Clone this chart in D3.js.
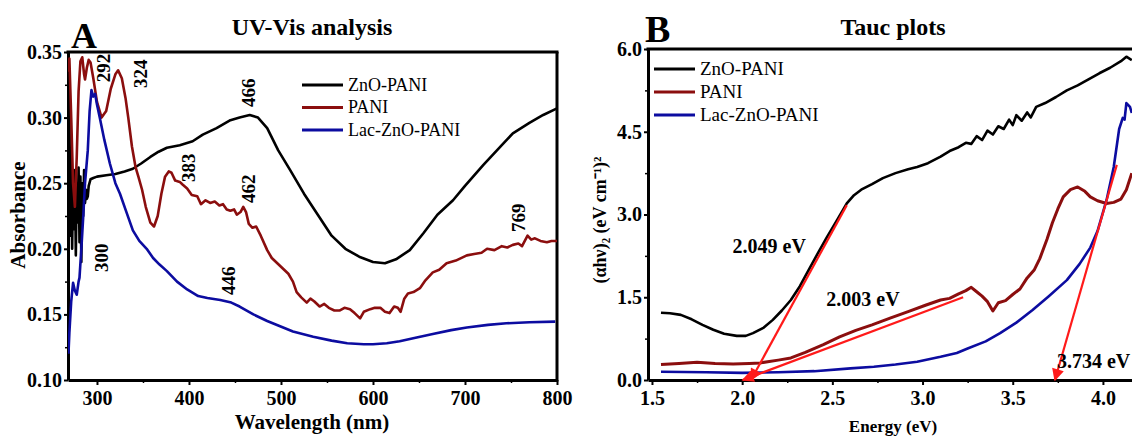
<!DOCTYPE html>
<html>
<head>
<meta charset="utf-8">
<script src="https://cdn.jsdelivr.net/npm/d3@7"></script>
<style>
  body { margin: 0; background: #fff; }
  svg text { font-family: "Liberation Serif", "Times New Roman", serif; }
</style>
</head>
<body>
<svg id="chart" width="1132" height="440"></svg>
<script>
// ---- data -------------------------------------------------------------

// Panel A: UV-Vis absorbance vs wavelength (nm)
const uvZnoPani = [
  [268,0.345],[269,0.25],[270,0.31],[271,0.21],[272,0.27],[273,0.20],[274,0.255],[275,0.215],
  [276,0.26],[277,0.195],[278,0.25],[279,0.22],[280,0.262],[281,0.205],[282,0.255],[283,0.19],
  [284,0.25],[285,0.225],[286,0.26],[287,0.235],[288,0.245],[289,0.238],[290,0.24],[291,0.248],
  [293,0.253],[296,0.254],[300,0.255],[310,0.256],[320,0.257],[330,0.259],[339,0.261],[348,0.265],
  [358,0.27],[367,0.274],[376,0.277],[390,0.279],[404,0.282],[415,0.287],[430,0.292],[445,0.298],
  [455,0.3],[466,0.302],[475,0.3],[485,0.292],[497,0.275],[510,0.26],[525,0.242],[540,0.226],
  [555,0.21],[570,0.2],[585,0.194],[600,0.19],[613,0.189],[625,0.192],[640,0.199],[655,0.212],
  [670,0.226],[687,0.237],[700,0.248],[720,0.264],[740,0.279],[752,0.288],[770,0.296],[785,0.302],[800,0.307]
];
const uvPani = [
  [268,0.335],[270,0.345],[272,0.30],[274,0.25],[276,0.232],[278,0.27],[280,0.32],[282,0.343],
  [284,0.346],[286,0.333],[287,0.329],[289,0.338],[291,0.344],[293,0.342],[296,0.33],[300,0.312],
  [305,0.30],[310,0.305],[315,0.322],[320,0.333],[323,0.336],[327,0.33],[331,0.315],[334,0.30],
  [338,0.278],[342,0.262],[345,0.255],[349,0.245],[353,0.232],[358,0.22],[362,0.217],[366,0.225],
  [370,0.242],[374,0.255],[378,0.259],[381,0.258],[385,0.252],[390,0.251],[393,0.249],[398,0.246],
  [403,0.241],[409,0.24],[413,0.234],[418,0.237],[423,0.235],[428,0.236],[433,0.233],[437,0.234],
  [441,0.23],[445,0.229],[449,0.23],[452,0.226],[456,0.228],[459,0.232],[462,0.228],[465,0.219],
  [469,0.216],[473,0.217],[478,0.21],[485,0.199],[490,0.193],[496,0.189],[502,0.185],[508,0.181],
  [513,0.175],[517,0.167],[522,0.163],[528,0.159],[532,0.162],[536,0.16],[542,0.156],[547,0.158],
  [552,0.155],[558,0.153],[564,0.153],[569,0.155],[575,0.154],[580,0.151],[586,0.147],[590,0.152],
  [597,0.154],[602,0.155],[608,0.155],[613,0.152],[618,0.151],[623,0.156],[627,0.155],[630,0.152],
  [634,0.162],[638,0.166],[644,0.167],[651,0.17],[657,0.176],[665,0.182],[672,0.184],[680,0.189],
  [690,0.191],[702,0.195],[710,0.196],[718,0.197],[724,0.2],[732,0.199],[740,0.202],[746,0.201],
  [752,0.203],[758,0.204],[762,0.202],[768,0.21],[772,0.207],[776,0.208],[782,0.206],[789,0.205],
  [794,0.206],[800,0.206]
];
const uvLac = [
  [269,0.12],[270,0.136],[272,0.16],[274,0.174],[276,0.168],[278,0.165],[280,0.175],[281,0.178],
  [283,0.2],[285,0.224],[287,0.25],[290,0.275],[292,0.305],[294,0.321],[296,0.316],[298,0.318],
  [300,0.31],[303,0.3],[308,0.283],[314,0.265],[320,0.25],[325,0.242],[332,0.228],[339,0.214],
  [346,0.206],[354,0.2],[361,0.193],[368,0.188],[376,0.183],[387,0.175],[398,0.169],[410,0.164],
  [420,0.1625],[434,0.161],[446,0.159],[455,0.156],[470,0.15],[485,0.145],[499,0.141],[513,0.137],
  [535,0.133],[555,0.13],[572,0.128],[590,0.1272],[600,0.1273],[615,0.128],[629,0.1295],[645,0.132],
  [665,0.135],[685,0.138],[702,0.14],[725,0.142],[745,0.1432],[770,0.144],[798,0.1445]
];
// peak labels, placed by (wavelength, absorbance) of the text's lower end
const uvPeaks = [
  {label:"292", x:314.5, y:0.327}, {label:"324", x:354, y:0.3226}, {label:"466", x:472, y:0.308},
  {label:"383", x:406, y:0.251},   {label:"462", x:472, y:0.235},  {label:"300", x:312.5, y:0.1823},
  {label:"446", x:450.5, y:0.1648},{label:"769", x:765, y:0.2128}
];

// Panel B: Tauc plots (αhν)² vs energy (eV)
const taucZnoPani = [
  [1.55,1.22],[1.6,1.21],[1.66,1.18],[1.72,1.1],[1.78,1.0],[1.84,0.91],[1.9,0.84],[1.97,0.8],
  [2.02,0.8],[2.06,0.85],[2.12,0.95],[2.17,1.09],[2.22,1.26],[2.27,1.45],[2.32,1.7],[2.36,1.94],
  [2.42,2.3],[2.47,2.59],[2.53,2.92],[2.58,3.2],[2.62,3.35],[2.66,3.45],[2.72,3.55],[2.78,3.66],
  [2.85,3.75],[2.92,3.82],[2.97,3.86],[3.03,3.93],[3.1,4.05],[3.15,4.15],[3.2,4.22],[3.24,4.3],
  [3.27,4.28],[3.3,4.42],[3.33,4.35],[3.36,4.52],[3.39,4.45],[3.42,4.6],[3.45,4.55],[3.48,4.72],
  [3.5,4.62],[3.52,4.8],[3.55,4.7],[3.58,4.85],[3.6,4.76],[3.63,4.95],[3.68,5.02],[3.74,5.13],
  [3.8,5.25],[3.86,5.34],[3.92,5.45],[3.98,5.56],[4.04,5.66],[4.1,5.78],[4.13,5.86],[4.16,5.8]
];
const taucPani = [
  [1.55,0.28],[1.65,0.3],[1.75,0.32],[1.85,0.3],[1.95,0.29],[2.04,0.3],[2.1,0.31],[2.2,0.36],
  [2.27,0.4],[2.35,0.5],[2.45,0.64],[2.54,0.78],[2.63,0.9],[2.72,1.0],[2.82,1.12],[2.92,1.24],
  [3.02,1.36],[3.1,1.45],[3.15,1.48],[3.2,1.56],[3.24,1.62],[3.27,1.68],[3.3,1.6],[3.33,1.52],
  [3.36,1.42],[3.39,1.25],[3.42,1.4],[3.46,1.44],[3.5,1.55],[3.54,1.65],[3.58,1.85],[3.62,2.0],
  [3.65,2.2],[3.69,2.55],[3.72,2.85],[3.75,3.1],[3.78,3.32],[3.82,3.45],[3.86,3.5],[3.9,3.42],
  [3.93,3.32],[3.97,3.25],[4.02,3.2],[4.06,3.22],[4.1,3.28],[4.13,3.45],[4.16,3.75]
];
const taucLac = [
  [1.55,0.15],[1.8,0.14],[2.0,0.13],[2.2,0.14],[2.4,0.16],[2.6,0.21],[2.73,0.24],[2.85,0.28],
  [2.97,0.33],[3.1,0.42],[3.19,0.49],[3.25,0.57],[3.35,0.7],[3.43,0.85],[3.52,1.04],[3.61,1.27],
  [3.7,1.52],[3.8,1.81],[3.87,2.1],[3.93,2.4],[3.97,2.7],[4.02,3.26],[4.06,3.86],[4.09,4.55],
  [4.11,4.75],[4.12,4.72],[4.13,5.02],[4.15,4.95],[4.16,4.84]
];
// tangent lines: start -> arrow tip on the energy axis
const taucFits = [
  {from:[2.58,3.17],  to:[2.049,0]},
  {from:[3.225,1.5],  to:[2.003,0]},
  {from:[4.077,3.9],  to:[3.734,0]}
];
const gapLabels = [
  {label:"2.049 eV", x:2.15, y:2.3,  anchor:"middle"},
  {label:"2.003 eV", x:2.67, y:1.35, anchor:"middle"},
  {label:"3.734 eV", x:3.745, y:0.22, anchor:"start"}
];

const seriesNames  = ["ZnO-PANI", "PANI", "Lac-ZnO-PANI"];
const seriesColors = ["#000000", "#8b0e0e", "#0c0ca0"];

// ---- layout ------------------------------------------------------------
const svg = d3.select("#chart");
const boxA = { left: 68,  top: 52, right: 557,  bottom: 380 };
const boxB = { left: 648, top: 49, right: 1139, bottom: 380 };

const xA = d3.scaleLinear().domain([268.5, 800]).range([boxA.left, boxA.right]);
const yA = d3.scaleLinear().domain([0.10, 0.35]).range([boxA.bottom, boxA.top]);
const xB = d3.scaleLinear().domain([1.478, 4.2]).range([boxB.left, boxB.right]);
const yB = d3.scaleLinear().domain([0, 6]).range([boxB.bottom, boxB.top]);

const defs = svg.append("defs");
defs.append("clipPath").attr("id", "clipA").append("rect")
  .attr("x", boxA.left).attr("y", boxA.top)
  .attr("width", boxA.right - boxA.left).attr("height", boxA.bottom - boxA.top);
defs.append("clipPath").attr("id", "clipB").append("rect")
  .attr("x", boxB.left).attr("y", boxB.top - 2)
  .attr("width", boxB.right - boxB.left).attr("height", boxB.bottom - boxB.top + 2);
defs.append("marker")
  .attr("id", "arrow").attr("viewBox", "0 0 10 10")
  .attr("refX", 9).attr("refY", 5)
  .attr("markerWidth", 6).attr("markerHeight", 5.5)
  .attr("markerUnits", "strokeWidth")
  .attr("orient", "auto")
  .append("path").attr("d", "M0,0 L10,5 L0,10 Z").attr("fill", "#ff1a1a");

// axis helper: major ticks with bold labels + unlabelled minor ticks
function styleAxis(g, fontSize) {
  g.select(".domain").attr("stroke", "#000").attr("stroke-width", 3);
  g.selectAll(".tick line").attr("stroke", "#000").attr("stroke-width", 2);
  g.selectAll(".tick text")
    .attr("fill", "#000").attr("font-size", fontSize).attr("font-weight", "bold")
    .attr("font-family", "Liberation Serif, serif");
}

function drawAxes(box, x, y, xTicks, xMinor, yTicks, yMinor, xFmt, yFmt, fullBox) {
  svg.append("g").attr("transform", `translate(0,${box.bottom})`)
    .call(d3.axisBottom(x).tickValues(xMinor).tickSize(3).tickFormat("").tickSizeOuter(0))
    .call(g => { g.select(".domain").remove(); g.selectAll("line").attr("stroke-width", 1.5); });
  svg.append("g").attr("transform", `translate(${box.left},0)`)
    .call(d3.axisLeft(y).tickValues(yMinor).tickSize(3).tickFormat("").tickSizeOuter(0))
    .call(g => { g.select(".domain").remove(); g.selectAll("line").attr("stroke-width", 1.5); });

  svg.append("g").attr("transform", `translate(0,${box.bottom})`)
    .call(d3.axisBottom(x).tickValues(xTicks).tickFormat(xFmt).tickSize(5).tickPadding(6).tickSizeOuter(0))
    .call(g => styleAxis(g, 20));
  svg.append("g").attr("transform", `translate(${box.left},0)`)
    .call(d3.axisLeft(y).tickValues(yTicks).tickFormat(yFmt).tickSize(4).tickPadding(2).tickSizeOuter(0))
    .call(g => styleAxis(g, 20));

  // top border (and right border for the closed box)
  svg.append("line")
    .attr("x1", box.left - 1.5).attr("x2", fullBox ? box.right + 1.5 : 1132)
    .attr("y1", box.top).attr("y2", box.top)
    .attr("stroke", "#000").attr("stroke-width", 3);
  if (fullBox) {
    svg.append("line")
      .attr("x1", box.right).attr("x2", box.right)
      .attr("y1", box.top).attr("y2", box.bottom + 1.5)
      .attr("stroke", "#000").attr("stroke-width", 3);
  }
}

function drawLegend(x0, y0, dy, fontSize) {
  seriesNames.forEach((name, i) => {
    const y = y0 + i * dy;
    svg.append("line")
      .attr("x1", x0).attr("x2", x0 + 41).attr("y1", y).attr("y2", y)
      .attr("stroke", seriesColors[i]).attr("stroke-width", 3);
    svg.append("text")
      .attr("x", x0 + 46).attr("y", y + fontSize * 0.33)
      .attr("font-size", fontSize).attr("fill", "#000")
      .text(name);
  });
}

// ---- panel A: UV-Vis ---------------------------------------------------
drawAxes(boxA, xA, yA,
  d3.range(300, 801, 100), d3.range(350, 800, 100),
  d3.range(0.10, 0.351, 0.05), d3.range(0.125, 0.35, 0.05),
  d3.format("d"), d3.format(".2f"), true);

const lineA = d3.line().x(d => xA(d[0])).y(d => yA(d[1]));
const gA = svg.append("g").attr("clip-path", "url(#clipA)");
[uvZnoPani, uvPani, uvLac].forEach((s, i) => {
  gA.append("path").datum(s)
    .attr("fill", "none").attr("stroke", seriesColors[i])
    .attr("stroke-width", 2.6).attr("stroke-linejoin", "round")
    .attr("d", lineA);
});

svg.selectAll("text.peak").data(uvPeaks).enter().append("text")
  .attr("class", "peak")
  .attr("transform", d => `translate(${xA(d.x)},${yA(d.y)}) rotate(-90)`)
  .attr("font-size", 19).attr("font-weight", "bold").attr("text-anchor", "start")
  .text(d => d.label);

drawLegend(302, 85, 22.5, 18);

svg.append("text").attr("x", 312).attr("y", 35).attr("text-anchor", "middle")
  .attr("font-size", 24).attr("font-weight", "bold").text("UV-Vis analysis");
svg.append("text").attr("x", 71).attr("y", 48)
  .attr("font-size", 36).attr("font-weight", "bold").text("A");
svg.append("text").attr("x", 312).attr("y", 429).attr("text-anchor", "middle")
  .attr("font-size", 21).attr("font-weight", "bold").text("Wavelength (nm)");
svg.append("text").attr("transform", "translate(25,215) rotate(-90)").attr("text-anchor", "middle")
  .attr("font-size", 21).attr("font-weight", "bold").text("Absorbance");

// ---- panel B: Tauc plots -----------------------------------------------
drawAxes(boxB, xB, yB,
  d3.range(1.5, 4.01, 0.5), d3.range(1.75, 4.2, 0.5),
  d3.range(0, 6.01, 1.5), d3.range(0.75, 6, 1.5),
  d3.format(".1f"), d3.format(".1f"), false);

const lineB = d3.line().x(d => xB(d[0])).y(d => yB(d[1]));
const gB = svg.append("g").attr("clip-path", "url(#clipB)");
[taucZnoPani, taucPani, taucLac].forEach((s, i) => {
  gB.append("path").datum(s)
    .attr("fill", "none").attr("stroke", seriesColors[i])
    .attr("stroke-width", i === 1 ? 3 : 2.6).attr("stroke-linejoin", "round")
    .attr("d", lineB);
});

svg.selectAll("line.fit").data(taucFits).enter().append("line")
  .attr("class", "fit")
  .attr("x1", d => xB(d.from[0])).attr("y1", d => yB(d.from[1]))
  .attr("x2", d => xB(d.to[0])).attr("y2", d => yB(d.to[1]))
  .attr("stroke", "#ff1a1a").attr("stroke-width", 2.2)
  .attr("marker-end", "url(#arrow)");

svg.selectAll("text.gap").data(gapLabels).enter().append("text")
  .attr("class", "gap")
  .attr("x", d => xB(d.x)).attr("y", d => yB(d.y))
  .attr("text-anchor", d => d.anchor)
  .attr("font-size", 20).attr("font-weight", "bold")
  .text(d => d.label);

drawLegend(654, 69, 23, 19);

svg.append("text").attr("x", 893).attr("y", 35).attr("text-anchor", "middle")
  .attr("font-size", 24).attr("font-weight", "bold").text("Tauc plots");
svg.append("text").attr("x", 645).attr("y", 42)
  .attr("font-size", 38).attr("font-weight", "bold").text("B");
svg.append("text").attr("x", 893).attr("y", 432).attr("text-anchor", "middle")
  .attr("font-size", 17).attr("font-weight", "bold").text("Energy (eV)");
svg.append("text").attr("transform", "translate(606,220) rotate(-90)").attr("text-anchor", "middle")
  .attr("font-size", 18).attr("font-weight", "bold").text("(αhν)₂ (eV cm⁻¹)²");
</script>
</body>
</html>
